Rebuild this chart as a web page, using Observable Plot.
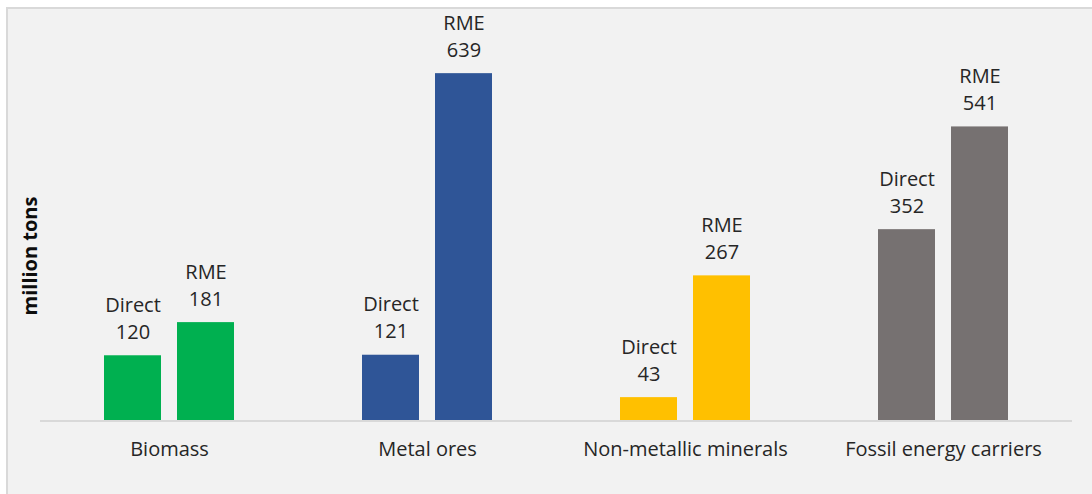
<!DOCTYPE html>
<html>
<head>
<meta charset="utf-8">
<script src="https://cdn.jsdelivr.net/npm/d3@7"></script>
<script src="https://cdn.jsdelivr.net/npm/@observablehq/plot@0.6"></script>
<style>
  html, body { margin: 0; padding: 0; background: #ffffff; overflow: hidden; }
  #frame {
    position: absolute; left: 6px; top: 7px; width: 1100px; height: 500px;
    background: #f2f2f2; border-left: 2px solid #d9d9d9; border-top: 2px solid #d9d9d9;
  }
  #chart { position: absolute; left: 0; top: 0; }
  #ylabel {
    position: absolute; left: 29px; top: 256px;
    transform: translate(-50%, -50%) rotate(-90deg);
    font: bold 20px "Open Sans", sans-serif; color: #0d0d0d; white-space: nowrap;
  }
</style>
</head>
<body>
<div id="frame"></div>
<div id="chart"></div>
<div id="ylabel">million tons</div>
<script>
// Material consumption by material group: direct use vs. raw material equivalents (RME)
const categories = ["Biomass", "Metal ores", "Non-metallic minerals", "Fossil energy carriers"];
const series = ["Direct", "RME"];
const direct = [120, 121, 43, 352];
const rme = [181, 639, 267, 541];
const colors = ["#00b050", "#2f5597", "#ffc000", "#767171"];

const rows = categories.flatMap((c, i) => [
  {category: c, series: "Direct", value: direct[i]},
  {category: c, series: "RME", value: rme[i]}
]);

const chart = Plot.plot({
  width: 1092,
  height: 494,
  marginLeft: 38,
  marginRight: 19,
  marginTop: 40,
  marginBottom: 73.5,
  style: {background: "transparent", fontFamily: "'Open Sans', sans-serif", fontSize: "20px"},
  fx: {domain: categories, padding: 0, label: null},
  x: {domain: series, paddingInner: 0.216, paddingOuter: 0.856, axis: null},
  y: {domain: [0, 700], axis: null},
  color: {domain: categories, range: colors},
  marks: [
    Plot.barY(rows, {fx: "category", x: "series", y: "value", fill: "category"}),
    Plot.ruleY([0], {stroke: "#d9d9d9", strokeWidth: 2}),
    Plot.text(rows, {
      fx: "category", x: "series", y: "value",
      text: d => `${d.series}\n${d.value}`,
      lineAnchor: "bottom", lineHeight: 1.35, dy: -17,
      fill: "#262626", fontSize: 20
    }),
    Plot.axisFx({anchor: "bottom", tickSize: 0, tickPadding: 21, fontSize: 20, label: null, fill: "#262626"})
  ]
});

document.getElementById("chart").appendChild(chart);
</script>
</body>
</html>
